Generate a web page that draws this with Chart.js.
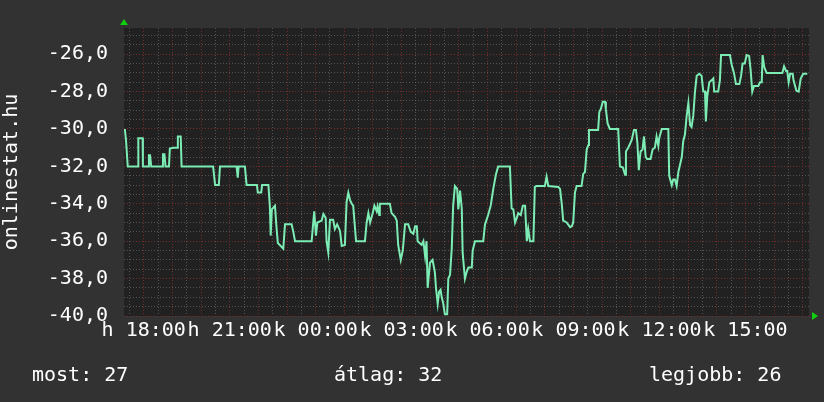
<!DOCTYPE html>
<html>
<head>
<meta charset="utf-8">
<script src="https://cdn.jsdelivr.net/npm/chart.js@4/dist/chart.umd.min.js"></script>
<style>
  html, body { margin: 0; padding: 0; background: #323232; }
  #wrap { position: relative; width: 824px; height: 402px; }
  .foot { position: absolute; top: 362px; font: 20px 'DejaVu Sans Mono', monospace; color: #fff; line-height: 24px; white-space: pre; }
</style>
</head>
<body>
<div id="wrap">
  <canvas id="graph" width="824" height="402"></canvas>
  <div class="foot" style="left:32px">most: 27</div>
  <div class="foot" style="left:334px">átlag: 32</div>
  <div class="foot" style="left:649px">legjobb: 26</div>
</div>
<script>
// hours after 18:00 (h) and the reading at that moment
var hours = [-0.66,-0.62,-0.56,-0.20,-0.19,-0.04,-0.03,0.15,0.18,0.22,0.26,0.64,0.67,0.72,0.76,0.88,0.91,1.02,1.16,1.19,1.29,1.32,
  2.42,2.49,2.62,2.66,3.24,3.28,3.31,3.53,3.59,3.95,3.98,4.10,4.13,4.35,4.40,4.43,4.47,4.58,4.63,4.68,4.87,4.93,5.16,5.22,5.28,
  5.86,5.91,5.95,6.01,6.06,6.21,6.27,6.35,6.38,6.44,6.50,6.61,6.67,6.75,6.85,6.91,7.02,7.08,7.14,7.20,7.26,7.31,7.41,
  7.72,7.78,7.84,7.90,7.99,8.05,8.13,8.16,8.22,8.24,8.59,8.65,8.77,8.83,8.88,8.97,9.04,9.12,9.23,9.32,9.41,9.47,9.53,9.56,
  9.70,9.76,9.82,9.87,9.91,9.99,10.08,10.16,10.20,10.26,10.31,10.36,10.40,10.45,10.51,10.59,10.63,10.69,10.75,10.80,10.86,
  10.94,10.98,11.04,11.10,11.13,11.21,11.27,11.33,11.45,11.48,11.56,11.85,11.91,12.02,12.11,12.20,12.29,12.37,12.78,12.84,
  12.90,12.96,13.02,13.07,13.16,13.23,13.31,13.37,13.42,13.48,13.60,13.65,13.71,14.00,14.06,14.12,14.47,14.53,14.59,14.64,
  14.76,14.88,14.94,14.99,15.05,15.11,15.28,15.34,15.40,15.46,15.52,15.54,15.86,15.90,15.96,16.02,16.10,16.13,16.19,16.27,
  16.56,16.62,16.72,16.80,16.83,16.91,17.03,17.11,17.18,17.23,17.28,17.34,17.41,17.46,17.52,17.57,17.69,17.76,17.84,17.90,
  17.96,17.99,18.08,18.31,18.34,18.43,18.48,18.54,18.60,18.66,18.78,18.83,18.89,18.95,19.01,19.07,19.12,19.18,19.24,19.30,
  19.39,19.47,19.53,19.59,19.62,19.67,19.74,19.82,19.88,19.91,20.05,20.11,20.15,20.46,20.52,20.60,20.67,20.79,20.85,20.90,
  20.98,21.04,21.13,21.18,21.24,21.30,21.45,21.51,21.57,21.60,21.66,21.74,22.29,22.35,22.42,22.46,22.51,22.56,22.65,22.68,
  22.78,22.86,22.93,23.02,23.16];
var values = [-30.0,-30.6,-32.0,-32.0,-30.5,-30.5,-32.0,-32.0,-31.4,-31.4,-32.0,-32.0,-31.35,-31.35,-32.0,-32.0,-31.05,-31.0,-31.0,-30.4,-30.4,-32.0,
  -32.0,-33.0,-33.0,-32.0,-32.0,-32.6,-32.0,-32.0,-33.0,-33.0,-33.4,-33.4,-33.0,-33.0,-34.1,-35.7,-34.3,-34.1,-35.2,-36.1,-36.4,-35.1,-35.1,-35.5,-36.0,
  -36.0,-35.1,-34.4,-35.7,-35.0,-34.9,-34.55,-34.75,-36.0,-36.6,-34.85,-34.85,-35.35,-35.1,-35.45,-36.25,-36.2,-33.9,-33.4,-33.8,-34.0,-34.1,-36.0,
  -36.0,-35.0,-34.5,-35.0,-34.5,-34.1,-34.4,-34.15,-34.6,-34.0,-34.0,-34.5,-34.7,-34.9,-36.2,-37.0,-36.5,-35.1,-35.1,-35.5,-35.6,-35.2,-35.2,-36.0,
  -36.2,-36.0,-36.8,-36.0,-38.5,-37.15,-37.0,-37.65,-38.5,-39.35,-38.7,-38.6,-39.0,-39.3,-39.9,-39.9,-38.0,-37.8,-36.4,-34.1,-33.05,
  -33.2,-34.3,-33.3,-34.25,-36.6,-38.0,-37.65,-37.4,-37.4,-36.5,-36.0,-36.0,-35.1,-34.6,-34.1,-33.2,-32.45,-32.0,-32.0,-34.25,
  -34.3,-35.0,-34.75,-34.5,-34.6,-34.1,-34.1,-36.0,-35.35,-36.0,-36.0,-33.1,-33.05,-33.05,-32.55,-33.05,-33.1,-33.2,-34.0,-34.9,
  -35.0,-35.25,-35.2,-35.0,-33.4,-33.05,-33.05,-32.4,-32.3,-31.1,-30.85,-30.05,-30.05,-29.1,-28.9,-28.55,-28.55,-28.95,-29.7,-30.0,
  -30.0,-32.0,-32.05,-32.45,-31.2,-31.0,-30.6,-30.05,-30.05,-30.75,-32.2,-31.2,-31.1,-30.4,-31.5,-31.6,-31.6,-31.1,-31.0,-30.4,
  -30.9,-30.5,-30.0,-30.0,-32.5,-33.0,-32.7,-32.7,-33.05,-32.3,-31.5,-30.65,-30.3,-29.3,-28.6,-29.8,-29.9,-29.3,-28.0,-27.15,
  -27.05,-27.15,-28.0,-28.0,-29.6,-28.25,-27.5,-27.4,-27.3,-28.0,-28.0,-27.4,-26.05,-26.05,-26.55,-27.0,-27.6,-27.6,-27.15,-26.5,
  -26.5,-26.05,-26.1,-26.8,-28.0,-27.7,-27.7,-27.5,-27.5,-26.05,-26.7,-27.0,-27.0,-26.65,-26.9,-26.9,-27.5,-27.05,-27.05,-27.4,
  -27.95,-28.0,-27.3,-27.05,-27.05];

var xLabelHours = [0, 3, 6, 9, 12, 15, 18, 21];
var xLabels = ['h 18:00', 'h 21:00', 'k 00:00', 'k 03:00', 'k 06:00', 'k 09:00', 'k 12:00', 'k 15:00'];
var yLabelValues = [-40, -38, -36, -34, -32, -30, -28, -26];

var points = hours.map(function(h, i) { return {x: h, y: values[i]}; });

var monoFont = {family: "'DejaVu Sans Mono', monospace", size: 20};
var majorColor = 'rgba(130,45,45,0.85)';
var minorColor = 'rgba(105,105,105,0.7)';

function halfSteps(scale) {
  var t = [];
  for (var v = Math.ceil(scale.min * 2) / 2; v <= scale.max + 1e-9; v += 0.5) t.push({value: v});
  scale.ticks = t;
}

var decor = {
  id: 'decor',
  beforeDraw: function(chart) {
    var a = chart.chartArea, c = chart.ctx;
    c.save();
    c.fillStyle = '#212121';
    c.fillRect(a.left, a.top, a.right - a.left, a.bottom - a.top);
    c.restore();
  },
  afterDraw: function(chart) {
    var a = chart.chartArea, c = chart.ctx;
    c.save();
    c.fillStyle = '#10d010';
    c.beginPath();
    c.moveTo(a.left - 4, a.top - 3);
    c.lineTo(a.left + 4, a.top - 3);
    c.lineTo(a.left, a.top - 9);
    c.fill();
    c.beginPath();
    c.moveTo(a.right + 3, a.bottom - 4);
    c.lineTo(a.right + 3, a.bottom + 4);
    c.lineTo(a.right + 9, a.bottom);
    c.fill();
    c.restore();
  }
};

new Chart(document.getElementById('graph'), {
  type: 'line',
  data: {
    datasets: [{
      data: points,
      borderColor: '#7cecb4',
      borderWidth: 2,
      pointRadius: 0,
      tension: 0
    }]
  },
  options: {
    responsive: false,
    animation: false,
    devicePixelRatio: 1,
    layout: {padding: {left: 0, right: 15, top: 15, bottom: 0}},
    plugins: {legend: {display: false}, tooltip: {enabled: false}},
    scales: {
      x: {
        type: 'linear',
        min: -0.69,
        max: 23.22,
        afterBuildTicks: halfSteps,
        afterFit: function(s) { s.height = 86; },
        grid: {
          drawTicks: false,
          color: function(ctx) { return Number.isInteger(ctx.tick.value) ? majorColor : minorColor; }
        },
        border: {display: false, dash: [1, 2]},
        ticks: {
          autoSkip: false,
          maxRotation: 0,
          color: '#fff',
          font: monoFont,
          padding: 3,
          callback: function(v) {
            var i = xLabelHours.indexOf(v);
            return i < 0 ? '' : xLabels[i];
          }
        }
      },
      y: {
        min: -40,
        max: -24.6,
        afterBuildTicks: halfSteps,
        afterFit: function(s) { s.width = 124; },
        grid: {
          drawTicks: false,
          color: function(ctx) { return yLabelValues.indexOf(ctx.tick.value) >= 0 ? majorColor : minorColor; }
        },
        border: {display: false, dash: [1, 2]},
        title: {display: true, text: 'onlinestat.hu', color: '#fff', font: monoFont, padding: 0},
        ticks: {
          autoSkip: false,
          color: '#fff',
          font: monoFont,
          padding: 16,
          callback: function(v) {
            return yLabelValues.indexOf(v) < 0 ? '' : v.toFixed(1).replace('.', ',');
          }
        }
      }
    }
  },
  plugins: [decor]
});
</script>
</body>
</html>
